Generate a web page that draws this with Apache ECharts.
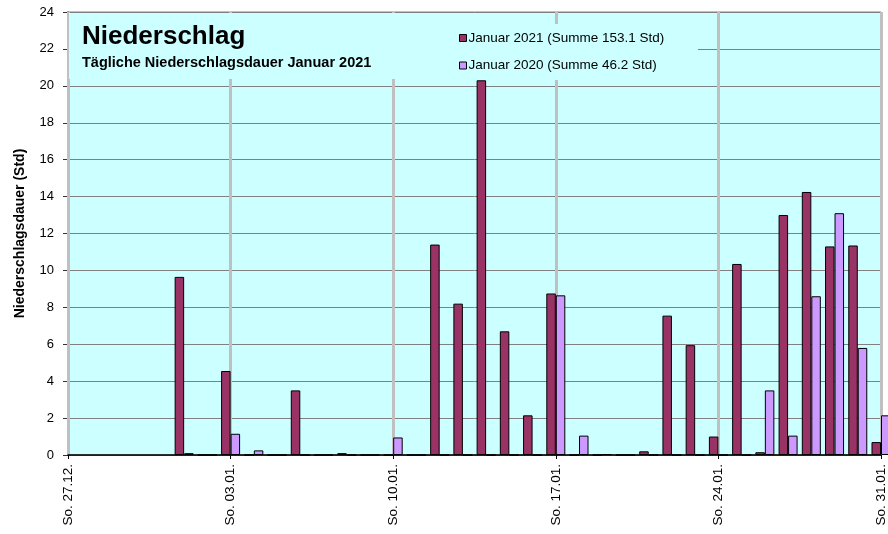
<!DOCTYPE html>
<html>
<head>
<meta charset="utf-8">
<script src="https://cdn.jsdelivr.net/npm/echarts@6/dist/echarts.min.js"></script>
<style>
html,body{margin:0;padding:0;background:#fff;}
#chart{width:888px;height:534px;}
</style>
</head>
<body>
<div id="chart"></div>
<script>
// Categories: days from Sun 27.12. to Sun 31.01.
var days = ['27.12.','28.12.','29.12.','30.12.','31.12.',
  '01.01.','02.01.','03.01.','04.01.','05.01.','06.01.','07.01.','08.01.','09.01.','10.01.',
  '11.01.','12.01.','13.01.','14.01.','15.01.','16.01.','17.01.','18.01.','19.01.','20.01.',
  '21.01.','22.01.','23.01.','24.01.','25.01.','26.01.','27.01.','28.01.','29.01.','30.01.','31.01.'];
var weekdayPrefix = 'So. ';

// Daily precipitation duration (hours)
var jan2021 = [null,null,null,null,null,
  9.65,0,4.55,0,0,3.5,0,0.1,0,0,
  0,11.4,8.2,20.3,6.7,2.15,8.75,0,0,0,
  0.2,7.55,5.95,1.0,10.35,0.15,13.0,14.25,11.3,11.35,0.7];
var jan2020 = [null,null,null,null,null,
  0.1,0,1.15,0.25,0,0,0,0,0,0.95,
  0,0,0,0,0,0,8.65,1.05,0.05,0,
  0,0,0,0,0,3.5,1.05,8.6,13.1,5.8,2.15];

var seriesNames = ['Januar 2021 (Summe 153.1 Std)', 'Januar 2020 (Summe 46.2 Std)'];
var yTicks = {min: 0, max: 24, interval: 2};

var chart = echarts.init(document.getElementById('chart'), null, {renderer: 'canvas'});
var FONT = 'Liberation Sans, Arial, sans-serif';

chart.setOption({
  animation: false,
  backgroundColor: '#ffffff',
  title: {
    text: 'Niederschlag',
    subtext: 'Tägliche Niederschlagsdauer Januar 2021',
    left: 82, top: 24, padding: 0, itemGap: 5, z: 6,
    textStyle: {fontFamily: FONT, fontSize: 26, fontWeight: 'bold', color: '#000'},
    subtextStyle: {fontFamily: FONT, fontSize: 14.5, fontWeight: 'bold', color: '#000'}
  },
  legend: {
    orient: 'vertical', left: 459, top: 31, padding: 0,
    itemWidth: 7, itemHeight: 7, itemGap: 13.5, z: 6,
    icon: 'rect',
    itemStyle: {borderColor: '#000', borderWidth: 1},
    textStyle: {fontFamily: FONT, fontSize: 13.5, color: '#000', padding: [0,0,0,-3]},
    data: seriesNames
  },
  graphic: [
    {type: 'rect', z: 1.5, silent: true, shape: {x: 69, y: 13, width: 382, height: 66}, style: {fill: '#CCFFFF'}},
    {type: 'rect', z: 1.5, silent: true, shape: {x: 451, y: 24, width: 247, height: 56}, style: {fill: '#CCFFFF'}}
  ],
  grid: {
    left: 68, right: 4, top: 12, bottom: 79,
    show: true, backgroundColor: '#CCFFFF', borderColor: '#808080', borderWidth: 1
  },
  xAxis: {
    type: 'category', data: days, boundaryGap: false, z: 1,
    axisLine: {lineStyle: {color: '#000', width: 1.5}},
    axisTick: {show: true, interval: 6, length: 4, lineStyle: {color: '#000'}},
    axisLabel: {
      interval: 6, rotate: 90, margin: 9,
      fontFamily: FONT, fontSize: 13.5, color: '#000',
      formatter: function (v) { return weekdayPrefix + v; }
    },
    splitLine: {show: true, interval: 6, lineStyle: {color: '#C0C0C0', width: 3}}
  },
  yAxis: {
    type: 'value', min: yTicks.min, max: yTicks.max, interval: yTicks.interval, z: 0,
    name: 'Niederschlagsdauer (Std)', nameLocation: 'middle', nameRotate: 90, nameGap: 41,
    nameTextStyle: {fontFamily: FONT, fontSize: 14, fontWeight: 'bold', color: '#000'},
    axisLine: {show: true, lineStyle: {color: '#333', width: 1.5}},
    axisTick: {show: true, length: 5, lineStyle: {color: '#333'}},
    axisLabel: {margin: 14, fontFamily: FONT, fontSize: 13, color: '#000'},
    splitLine: {show: true, lineStyle: {color: '#808080', width: 1}}
  },
  series: [
    {
      name: seriesNames[0], type: 'bar', data: jan2021, z: 2,
      barWidth: 9.5, barGap: '0%',
      itemStyle: {color: '#993366', borderColor: '#000', borderWidth: 1}
    },
    {
      name: seriesNames[1], type: 'bar', data: jan2020, z: 2,
      barWidth: 9.5, barGap: '0%',
      itemStyle: {color: '#CC99FF', borderColor: '#000', borderWidth: 1}
    }
  ]
});
</script>
</body>
</html>
